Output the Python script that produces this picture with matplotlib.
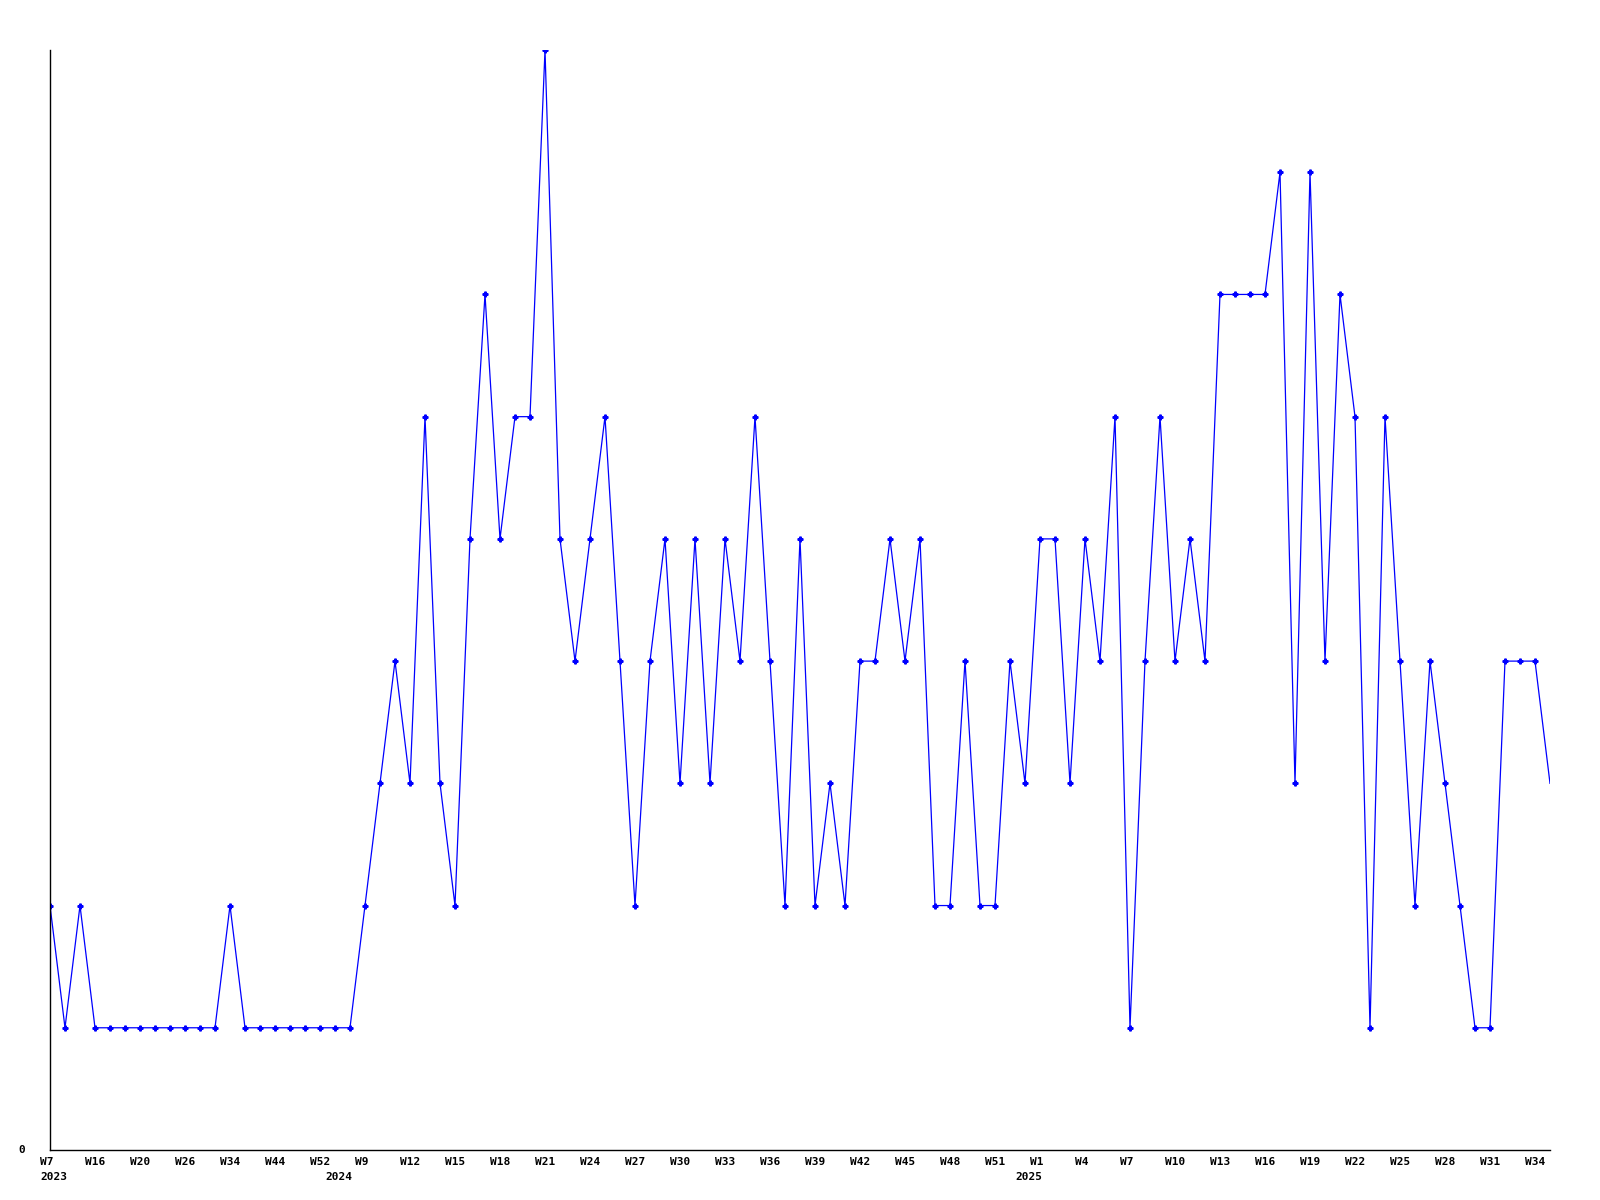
import matplotlib.pyplot as plt

# weekly values, one per point
values = [2, 1, 2, 1, 1, 1, 1, 1, 1, 1,
          1, 1, 2, 1, 1, 1, 1, 1, 1, 1,
          1, 2, 3, 4, 3, 6, 3, 2, 5, 7,
          5, 6, 6, 9, 5, 4, 5, 6, 4, 2,
          4, 5, 3, 5, 3, 5, 4, 6, 4, 2,
          5, 2, 3, 2, 4, 4, 5, 4, 5, 2,
          2, 4, 2, 2, 4, 3, 5, 5, 3, 5,
          4, 6, 1, 4, 6, 4, 5, 4, 7, 7,
          7, 7, 8, 3, 8, 4, 7, 6, 1, 6,
          4, 2, 4, 3, 2, 1, 1, 4, 4, 4,
          3]

week_labels = ['W7', 'W16', 'W20', 'W26', 'W34', 'W44', 'W52',
               'W9', 'W12', 'W15', 'W18', 'W21', 'W24', 'W27', 'W30', 'W33',
               'W36', 'W39', 'W42', 'W45', 'W48', 'W51',
               'W1', 'W4', 'W7', 'W10', 'W13', 'W16', 'W19', 'W22', 'W25',
               'W28', 'W31', 'W34']
label_step = 3

years = ['2023', '2024', '2025']
year_pos = [0, 19, 65]

x = list(range(len(values)))

fig = plt.figure(figsize=(16, 12), dpi=100)
ax = fig.add_axes([50 / 1600, 50 / 1200, 1500 / 1600, 1100 / 1200])

ax.plot(x, values, color='#0000ff', lw=0.9, marker='P', ms=3.5,
        markevery=slice(0, len(values) - 1))

ax.set_xlim(0, len(values) - 1)
ax.set_ylim(0, 9)
ax.set_xticks([])
ax.set_yticks([])
for s in ['top', 'right']:
    ax.spines[s].set_visible(False)
for s in ['left', 'bottom']:
    ax.spines[s].set_color('black')
    ax.spines[s].set_linewidth(1)

font = dict(family='DejaVu Sans Mono', fontweight='bold', fontsize=8)

for i, lab in enumerate(week_labels):
    ax.annotate(lab, xy=(i * label_step, 0), xycoords=('data', 'axes fraction'),
                xytext=(-10, -12), textcoords='offset pixels',
                ha='left', va='center', **font)

for yr, p in zip(years, year_pos):
    ax.annotate(yr, xy=(p, 0), xycoords=('data', 'axes fraction'),
                xytext=(-10, -27), textcoords='offset pixels',
                ha='left', va='center', **font)

ax.annotate('0', xy=(0, 0), xycoords='axes fraction', xytext=(-25, 0),
            textcoords='offset pixels', ha='right', va='center', **font)

plt.savefig('out.png', dpi=100)
